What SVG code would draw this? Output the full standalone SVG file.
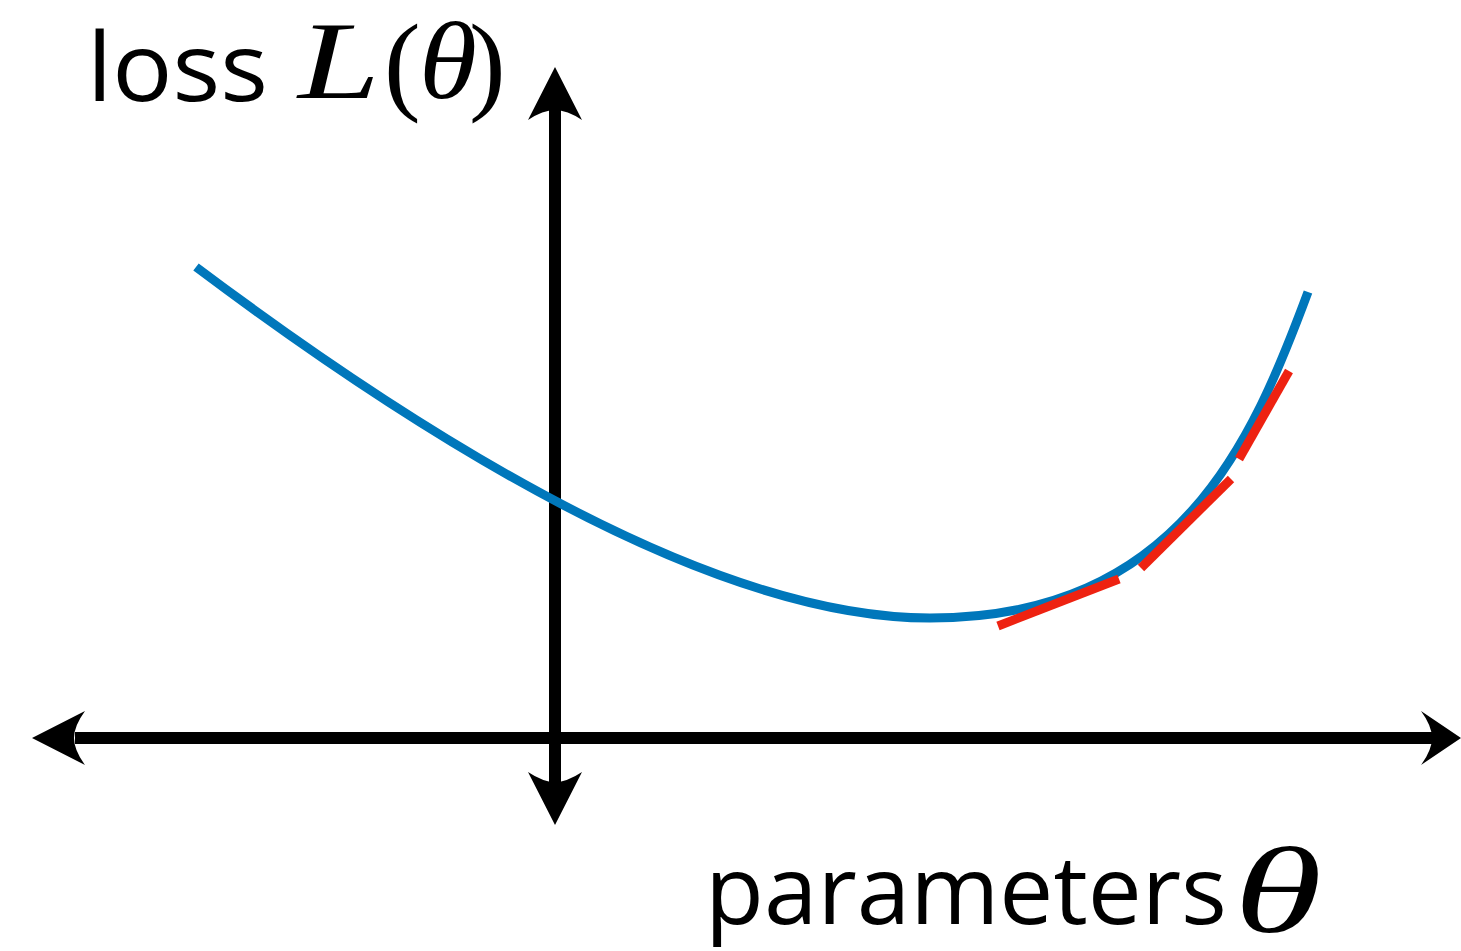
<svg xmlns="http://www.w3.org/2000/svg" width="1461" height="951" viewBox="0 0 1461 951">
<style>
.axis{stroke:#000;stroke-width:12;fill:none}
.head{fill:#000;stroke:none}
.curve{stroke:#0077bb;stroke-width:9;fill:none}
.tan{stroke:#ee2211;stroke-width:9;fill:none}
.lab{font-family:"Open Sans","Noto Sans",sans-serif;font-size:95px;font-weight:400;fill:#000}
.math{font-family:"Liberation Serif","DejaVu Serif",serif;font-style:italic;fill:#000}
.mathup{font-family:"Liberation Serif","DejaVu Serif",serif;fill:#000}
</style>
<rect width="1461" height="951" fill="#fff"/>
<g id="axes">
<line class="axis" x1="75" y1="738" x2="1432" y2="738"/>
<line class="axis" x1="555" y1="110" x2="555" y2="782"/>
<path class="head" d="M32,738 L85,711 Q74,726 74,738 Q74,750 85,765 Z"/>
<path class="head" d="M1461,738 L1421,711 Q1432,726 1432,738 Q1432,750 1421,765 Z"/>
<path class="head" d="M555,67 L528,120 Q543,110 555,110 Q567,110 582,120 Z"/>
<path class="head" d="M555,825 L528,772 Q543,782 555,782 Q567,782 582,772 Z"/>
</g>
<g id="loss-curve">
<path class="curve" d="M196,267 C400,420 700,618 930,618 C1180,618 1253,440 1308,292"/>
</g>
<g id="tangents">
<line class="tan" x1="998" y1="626" x2="1119" y2="579"/>
<line class="tan" x1="1141" y1="568" x2="1231" y2="479"/>
<line class="tan" x1="1239" y1="459" x2="1289" y2="371"/>
</g>
<g id="y-label">
<text class="lab" x="87" y="101" textLength="181" lengthAdjust="spacingAndGlyphs">loss</text>
<text class="math" x="298" y="98" font-size="110" textLength="82" lengthAdjust="spacingAndGlyphs">L</text>
<text class="mathup" x="384" y="100" font-size="110">(</text>
<text class="math" x="419" y="98" font-size="110" textLength="58" lengthAdjust="spacingAndGlyphs">θ</text>
<text class="mathup" x="469" y="100" font-size="110">)</text>
</g>
<g id="x-label">
<text class="lab" x="705" y="924" textLength="522" lengthAdjust="spacingAndGlyphs">parameters</text>
<text class="math" x="1234" y="932" font-size="122" textLength="88" lengthAdjust="spacingAndGlyphs">θ</text>
</g>
</svg>
